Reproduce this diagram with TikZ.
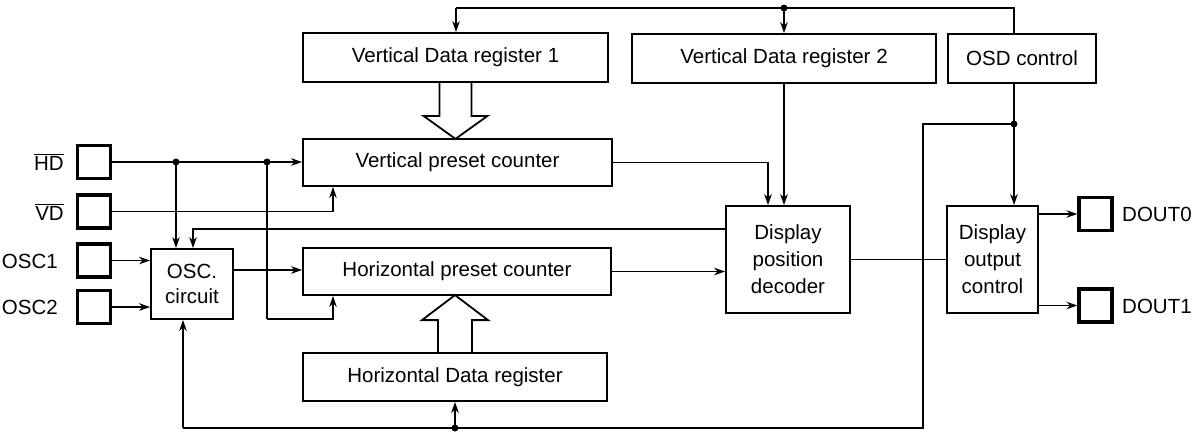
\documentclass[tikz,border=0pt]{standalone}
\usepackage{fontspec}
\setmainfont{Liberation Sans}
\usetikzlibrary{arrows.meta,calc}
\begin{document}
\begin{tikzpicture}[x=1pt,y=-1pt,
  font=\fontsize{20.5}{27}\selectfont,
  blk/.style={draw,line width=1.8pt,inner sep=0pt,align=center},
  pad/.style={draw,line width=3.2pt,minimum width=33pt,minimum height=33pt,inner sep=0pt},
  wire/.style={line width=1.8pt},
  arr/.style={wire,-{Stealth[length=11pt,width=7.5pt]}},
  dot/.style={circle,fill,inner sep=0pt,minimum size=7pt},
  lbl/.style={inner sep=0pt}]
\useasboundingbox (0,0) rectangle (1196,432);
% blocks
\node[blk,minimum width=305pt,minimum height=49pt] (vdr1) at (455.5,57.5) {Vertical Data register 1};
\node[blk,minimum width=304pt,minimum height=49pt] (vdr2) at (784,58.5) {Vertical Data register 2};
\node[blk,minimum width=148pt,minimum height=49pt] (osd) at (1022,58.5) {OSD control};
\node[blk,minimum width=309pt,minimum height=47pt] (vpc) at (457.5,162.5) {Vertical preset counter};
\node[blk,minimum width=308pt,minimum height=47pt] (hpc) at (457,271.5) {Horizontal preset counter};
\node[blk,minimum width=304pt,minimum height=48pt] (hdr) at (455,377) {Horizontal Data register};
\node[blk,minimum width=82pt,minimum height=70pt,font=\fontsize{20.5}{25}\selectfont] (osc) at (192,284) {OSC.\\circuit};
\node[blk,minimum width=124pt,minimum height=107pt] (dpd) at (788,259.5) {Display\\position\\decoder};
\node[blk,minimum width=91pt,minimum height=107pt] (doc) at (992.5,259.5) {Display\\output\\control};
% pads
\node[pad] (hd) at (94,162) {};
\node[pad] (vd) at (94,211.5) {};
\node[pad] (osc1) at (94,260.5) {};
\node[pad] (osc2) at (94,307) {};
\node[pad] (dout0) at (1095.5,214) {};
\node[pad] (dout1) at (1095.5,305.5) {};
% labels
\node[lbl,anchor=east] (lhd) at (64,162) {$\overline{\hbox{HD}}$};
\node[lbl,anchor=east] (lvd) at (64,212) {$\overline{\hbox{VD}}$};
\node[lbl,anchor=east] (losc1) at (58,261) {OSC1};
\node[lbl,anchor=east] (losc2) at (58,307) {OSC2};
\node[lbl,anchor=west] (ldout0) at (1122,214) {DOUT0};
\node[lbl,anchor=west] (ldout1) at (1122,306) {DOUT1};
% coordinates
\coordinate (busR) at (1014,8);
\coordinate (busM) at (784,8);
\coordinate (busL) at (456,8);
\coordinate (d1) at (176,162);
\coordinate (d2) at (267,162);
\coordinate (d2b) at (267,319);
\coordinate (fb) at (193,229);
\coordinate (oo) at (0,270);
\coordinate (dotR) at (1014,124);
\coordinate (vbR) at (923,124);
\coordinate (vbB) at (923,428);
\coordinate (bL) at (183,428);
\coordinate (bM) at (455,428);
\coordinate (vin) at (333,0);
\coordinate (vpcin) at (768,0);
% top bus
\draw[wire] (osd.north -| busR) -- (busR) -- (busL);
\draw[arr] (busL) -- (vdr1.north -| busL);
\draw[arr] (busM) -- (vdr2.north);
\node[dot] (dotM) at (busM) {};
% hollow arrows
\draw[wire,shift={(vdr1.south)}] (-16,0) -- (-16,33) -- (-32,33) -- (0,56) -- (32,33) -- (16,33) -- (16,0);
\draw[wire,shift={(hdr.north)}] (-17,0) -- (-17,-32) -- (-33,-32) -- (0,-57) -- (33,-32) -- (17,-32) -- (17,0);
% HD
\draw[arr] (hd.east) -- (vpc.west |- hd.east);
\node[dot] (dd1) at (d1) {};
\node[dot] (dd2) at (d2) {};
\draw[arr] (d1) -- (osc.north -| d1);
\draw[wire] (d2) -- (d2b);
\draw[arr] (d2b) -| (hpc.south -| vin);
% VD
\draw[arr] (vd.east) -| (vpc.south -| vin);
% OSC inputs
\draw[arr] (osc1.east) -- (osc.west |- osc1.east);
\draw[arr] (osc2.east) -- (osc.west |- osc2.east);
% OSC out
\draw[arr] (osc.east |- oo) -- (hpc.west |- oo);
% feedback from decoder
\draw[arr] (dpd.west |- fb) -| (osc.north -| fb);
% vpc/hpc to decoder
\draw[arr] (vpc.east) -| (dpd.north -| vpcin);
\draw[arr] (vdr2.south) -- (dpd.north -| vdr2.south);
\draw[arr] (hpc.east) -- (dpd.west |- hpc.east);
% decoder to output control
\draw[wire] (dpd.east) -- (doc.west);
% OSD control line
\draw[arr] (osd.south -| dotR) -- (doc.north -| dotR);
\node[dot] (ddR) at (dotR) {};
\draw[wire] (dotR) -- (vbR) -- (vbB) -- (bL);
\draw[arr] (bL) -- (osc.south -| bL);
\draw[arr] (bM) -- (hdr.south -| bM);
\node[dot] (ddB) at (bM) {};
% outputs
\draw[arr] (doc.east |- dout0) -- (dout0.west);
\draw[arr] (doc.east |- dout1) -- (dout1.west);
\end{tikzpicture}
\end{document}
